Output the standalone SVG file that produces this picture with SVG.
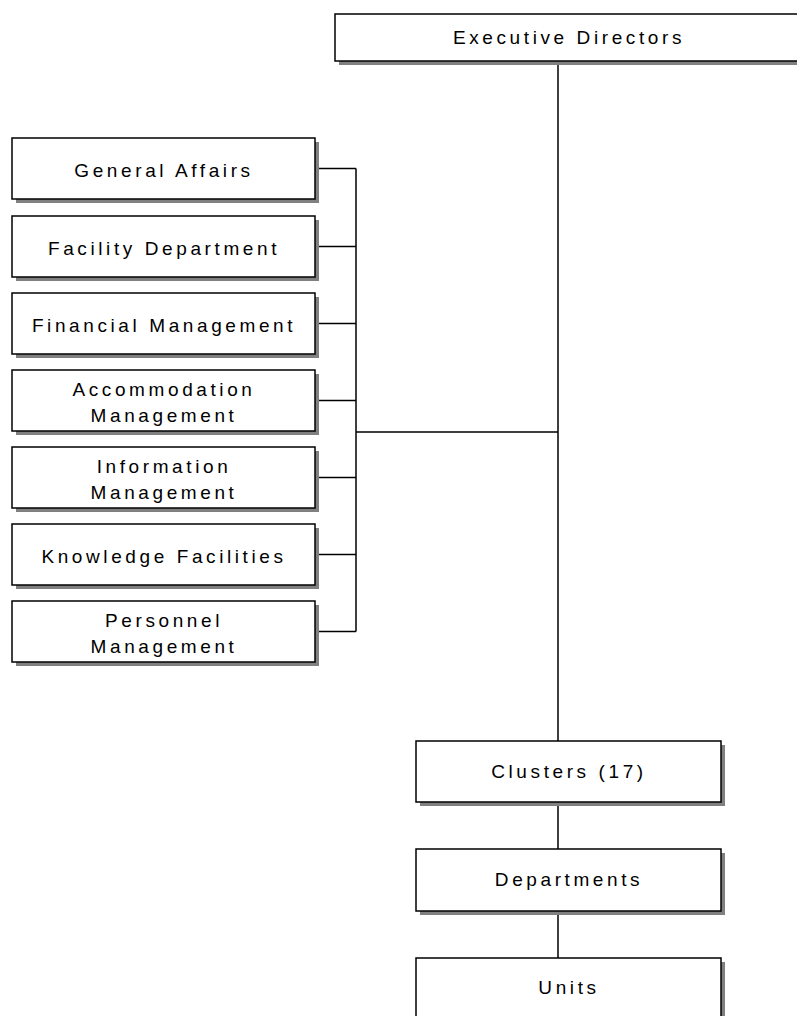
<svg xmlns="http://www.w3.org/2000/svg" width="797" height="1016" viewBox="0 0 797 1016">
<style>
.sh{fill:#808080;stroke:none}
.bx{fill:#fff;stroke:#000;stroke-width:1.5}
.t{font-family:"Liberation Sans",Arial,sans-serif;font-size:19px;letter-spacing:3.6px;fill:#000;text-anchor:middle}
.c{stroke:#000;stroke-width:1.5;fill:none}
</style>
<rect width="797" height="1016" fill="#fff"/>
<g id="connectors">
<path class="c" d="M558 61V741M356 432H558M356 168.5V631.5M315 168.5H356M315 246.5H356M315 323.5H356M315 400.5H356M315 477.5H356M315 554.5H356M315 631.5H356M558 802V849M558 911V958"/>
</g>
<g id="executive-directors">
<rect class="sh" x="339" y="18" width="465" height="47"/>
<rect class="bx" x="335" y="14" width="465" height="47"/>
<text class="t" x="569" y="44">Executive Directors</text>
</g>
<g id="general-affairs">
<rect class="sh" x="16" y="142" width="303" height="61"/>
<rect class="bx" x="12" y="138" width="303" height="61"/>
<text class="t" x="164" y="176.5">General Affairs</text>
</g>
<g id="facility-department">
<rect class="sh" x="16" y="220" width="303" height="61"/>
<rect class="bx" x="12" y="216" width="303" height="61"/>
<text class="t" x="164" y="254.5">Facility Department</text>
</g>
<g id="financial-management">
<rect class="sh" x="16" y="297" width="303" height="61"/>
<rect class="bx" x="12" y="293" width="303" height="61"/>
<text class="t" x="164" y="331.5">Financial Management</text>
</g>
<g id="accommodation-management">
<rect class="sh" x="16" y="374" width="303" height="61"/>
<rect class="bx" x="12" y="370" width="303" height="61"/>
<text class="t" x="164" y="396">Accommodation</text>
<text class="t" x="164" y="422">Management</text>
</g>
<g id="information-management">
<rect class="sh" x="16" y="451" width="303" height="61"/>
<rect class="bx" x="12" y="447" width="303" height="61"/>
<text class="t" x="164" y="473">Information</text>
<text class="t" x="164" y="499">Management</text>
</g>
<g id="knowledge-facilities">
<rect class="sh" x="16" y="528" width="303" height="61"/>
<rect class="bx" x="12" y="524" width="303" height="61"/>
<text class="t" x="164" y="562.5">Knowledge Facilities</text>
</g>
<g id="personnel-management">
<rect class="sh" x="16" y="605" width="303" height="61"/>
<rect class="bx" x="12" y="601" width="303" height="61"/>
<text class="t" x="164" y="627">Personnel</text>
<text class="t" x="164" y="653">Management</text>
</g>
<g id="clusters">
<rect class="sh" x="420" y="745" width="305" height="61"/>
<rect class="bx" x="416" y="741" width="305" height="61"/>
<text class="t" x="569" y="778">Clusters (17)</text>
</g>
<g id="departments">
<rect class="sh" x="420" y="853" width="305" height="62"/>
<rect class="bx" x="416" y="849" width="305" height="62"/>
<text class="t" x="569" y="886">Departments</text>
</g>
<g id="units">
<rect class="sh" x="420" y="962" width="305" height="62"/>
<rect class="bx" x="416" y="958" width="305" height="62"/>
<text class="t" x="569" y="994">Units</text>
</g>
</svg>
